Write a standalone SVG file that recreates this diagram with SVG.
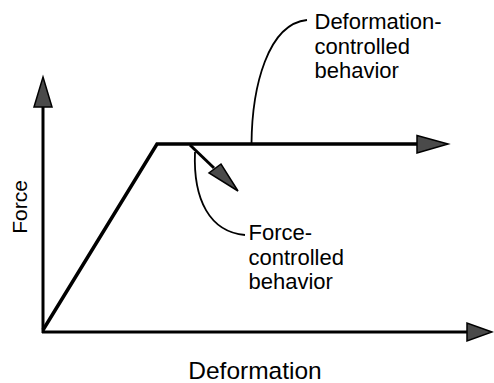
<svg xmlns="http://www.w3.org/2000/svg" width="494" height="383" viewBox="0 0 494 383">
<style>
.ln{fill:none;stroke:#000;stroke-linecap:butt;stroke-linejoin:miter}
.ax{stroke-width:3}
.cv{fill:none;stroke:#000;stroke-width:1.8}
.hd{fill:#4a4a4a;stroke:#000;stroke-width:1.5;stroke-linejoin:miter}
.t{font-family:"Liberation Sans",Arial,Helvetica,sans-serif;font-size:22px;fill:#000}
</style>
<rect width="494" height="383" fill="#fff"/>
<g id="axes">
  <line class="ln ax" x1="43" y1="333" x2="43" y2="106"/>
  <polygon class="hd" points="43,77 52,107 34,107"/>
  <line class="ln ax" x1="42" y1="332" x2="468" y2="332"/>
  <polygon class="hd" points="492,332 467,323 467,341"/>
</g>
<g id="response">
  <polyline class="ln" stroke-width="3.5" points="43,330 157,144 418,144"/>
  <polygon class="hd" points="448,144 417,135.5 417,153"/>
  <line class="ln" stroke-width="3" x1="190" y1="145" x2="214" y2="168"/>
  <polygon class="hd" points="238,191 209,173 221,164"/>
</g>
<g id="connectors">
  <path class="cv" d="M251.5,144 C252,86 268,24 307,20"/>
  <path class="cv" d="M195,152 C193,200 210,232 245,235"/>
</g>
<g id="label-deformation-controlled">
  <text class="t" x="314.5" y="29">Deformation-</text>
  <text class="t" x="314.5" y="54">controlled</text>
  <text class="t" x="314.5" y="78">behavior</text>
</g>
<g id="label-force-controlled">
  <text class="t" x="248.5" y="240">Force-</text>
  <text class="t" x="248.5" y="265">controlled</text>
  <text class="t" x="248.5" y="289">behavior</text>
</g>
<g id="axis-labels">
  <text class="t" x="27" y="207" text-anchor="middle" transform="rotate(-90 27 207)" style="font-size:21px">Force</text>
  <text class="t" x="255" y="379" text-anchor="middle" style="font-size:24.5px">Deformation</text>
</g>
</svg>
